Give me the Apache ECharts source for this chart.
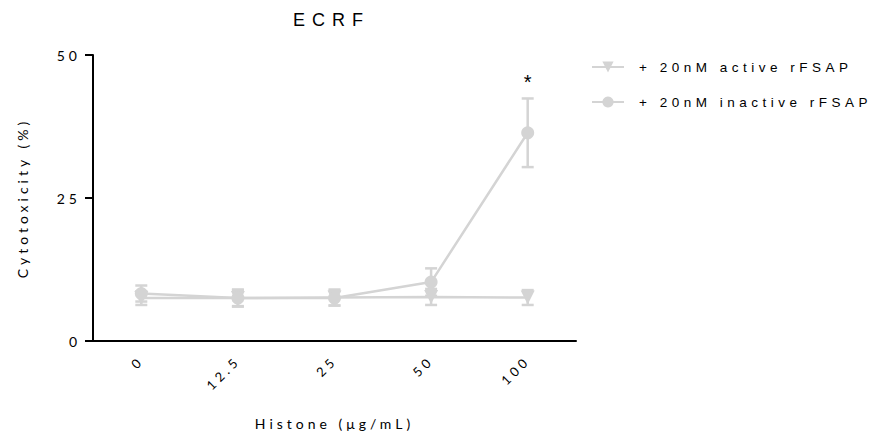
<!DOCTYPE html>
<html>
<head>
<meta charset="utf-8">
<script src="https://cdn.jsdelivr.net/npm/echarts@6/dist/echarts.min.js"></script>
<style>
    html, body { margin: 0; padding: 0; background: #fff; }
    #chart { width: 879px; height: 439px; }
    #chart text { letter-spacing: 3px; }
</style>
</head>
<body>
<div id="chart"></div>
<script>

const categories = ['0', '12.5', '25', '50', '100'];
const yTicks = [0, 25, 50];

const activeMean = [7.5, 7.5, 7.6, 7.7, 7.6];
const activeErr = [1.2, 1.4, 1.4, 1.4, 1.3];

const inactiveMean = [8.3, 7.5, 7.5, 10.3, 36.4];
const inactiveErr = [1.4, 1.5, 1.3, 2.4, 6.0];
const inactiveMarks = ['', '', '', '', '*'];

const grey = '#d4d4d4';

const errorBars = (name, mean, err, marks) => ({
    type: 'custom',
    name: name,
    silent: true,
    data: mean.map((m, i) => [i, m - err[i], m + err[i]]),
    renderItem: (params, api) => {
        const low = api.coord([api.value(0), api.value(1)]);
        const high = api.coord([api.value(0), api.value(2)]);
        const half = 6;
        const style = { stroke: grey, lineWidth: 2.5 };
        const children = [
            { type: 'line', shape: { x1: low[0], y1: low[1], x2: high[0], y2: high[1] }, style },
            { type: 'line', shape: { x1: low[0] - half, y1: low[1], x2: low[0] + half, y2: low[1] }, style },
            { type: 'line', shape: { x1: high[0] - half, y1: high[1], x2: high[0] + half, y2: high[1] }, style }
        ];
        const mark = marks ? marks[params.dataIndex] : '';
        if (mark) {
            children.push({
                type: 'text',
                x: high[0],
                y: high[1] - 6,
                style: {
                    text: mark,
                    fill: '#000',
                    font: '20px "Liberation Sans"',
                    align: 'center',
                    verticalAlign: 'bottom'
                }
            });
        }
        return { type: 'group', children };
    }
});

const chart = echarts.init(document.getElementById('chart'), null, { renderer: 'svg' });

const option = {
    animation: false,
    backgroundColor: '#fff',
    title: {
        text: 'ECRF',
        left: 288,
        top: 6,
        textStyle: {
            fontFamily: 'Liberation Sans',
            fontSize: 18,
            fontWeight: 'normal',
            color: '#000'
        }
    },
    legend: {
        orient: 'vertical',
        left: 586,
        top: 55,
        itemWidth: 32,
        itemHeight: 14,
        itemGap: 21,
        data: ['+ 20nM active rFSAP', '+ 20nM inactive rFSAP'],
        textStyle: {
            fontFamily: 'Liberation Sans',
            fontSize: 13.5,
            color: '#000',
            padding: [0, 0, 0, 10]
        }
    },
    grid: {
        left: 93,
        right: 303,
        top: 55,
        bottom: 98
    },
    xAxis: {
        type: 'category',
        data: categories,
        boundaryGap: true,
        name: 'Histone (μg/mL)',
        nameLocation: 'middle',
        nameGap: 75,
        nameTextStyle: {
            fontFamily: 'Lato',
            fontSize: 14,
            color: '#000'
        },
        axisLine: { lineStyle: { color: '#000', width: 2 } },
        axisTick: { alignWithLabel: true, length: 7, lineStyle: { color: '#000', width: 2 } },
        axisLabel: {
            rotate: 45,
            margin: 17,
            fontFamily: 'Lato',
            fontSize: 13,
            color: '#000'
        }
    },
    yAxis: {
        type: 'value',
        min: yTicks[0],
        max: yTicks[yTicks.length - 1],
        interval: yTicks[1] - yTicks[0],
        name: 'Cytotoxicity (%)',
        nameLocation: 'middle',
        nameGap: 64,
        nameTextStyle: {
            fontFamily: 'Lato',
            fontSize: 14,
            color: '#000'
        },
        splitLine: { show: false },
        axisLine: { show: true, lineStyle: { color: '#000', width: 2 } },
        axisTick: { show: true, length: 8, lineStyle: { color: '#000', width: 2 } },
        axisLabel: {
            margin: 12,
            fontFamily: 'Lato',
            fontSize: 14,
            color: '#000'
        }
    },
    series: [
        errorBars('active-err', activeMean, activeErr, null),
        errorBars('inactive-err', inactiveMean, inactiveErr, inactiveMarks),
        {
            name: '+ 20nM active rFSAP',
            type: 'line',
            data: activeMean,
            symbol: 'triangle',
            symbolRotate: 180,
            symbolSize: 14,
            itemStyle: { color: grey },
            lineStyle: { color: grey, width: 2.5 }
        },
        {
            name: '+ 20nM inactive rFSAP',
            type: 'line',
            data: inactiveMean,
            symbol: 'circle',
            symbolSize: 13,
            itemStyle: { color: grey },
            lineStyle: { color: grey, width: 2.5 }
        }
    ]
};

// the reference uses wide letter spacing, set it on the svg text once drawn
const spacingFor = (t) => {
    const cs = getComputedStyle(t);
    if (t.textContent === '*') return 0;
    if (parseFloat(cs.fontSize) >= 18) return 7;
    if (cs.fontFamily.includes('Liberation')) return 4.5;
    return 4;
};

chart.on('finished', () => {
    document.querySelectorAll('#chart text').forEach(t => {
        t.style.letterSpacing = spacingFor(t) + 'px';
    });
});

chart.setOption(option);

</script>
</body>
</html>
